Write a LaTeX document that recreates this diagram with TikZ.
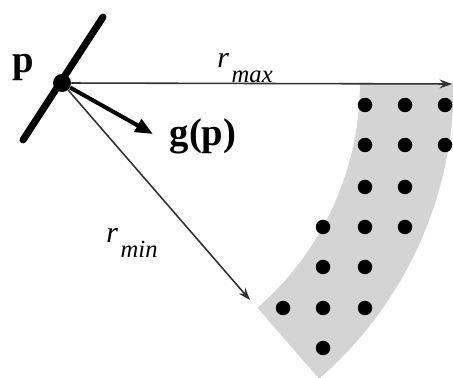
\documentclass[tikz,border=0pt]{standalone}
\usepackage{fontspec}
\setmainfont{Liberation Serif}
\usetikzlibrary{arrows.meta,calc}
\definecolor{zoneGray}{RGB}{212,212,212}
\definecolor{rayGray}{RGB}{50,50,50}
\newcommand{\radlabel}[1]{\textit{r}\kern1.5pt\raisebox{-8pt}{\fontsize{14}{14}\selectfont\itshape #1}}

\begin{document}
\begin{tikzpicture}[
    x=0.02cm, y=0.02cm,
    point/.style={circle, fill=black, inner sep=0pt, minimum size=0.36cm},
    sample/.style={circle, fill=black, inner sep=0pt, minimum size=0.29cm},
    plane/.style={line width=4pt, line cap=round},
    normal/.style={line width=2.3pt, -{Triangle[length=10pt,width=8pt]}},
    ray/.style={draw=rayGray, line width=0.9pt, -{Stealth[length=7pt,width=5pt]}},
    big label/.style={font=\fontsize{22}{26}\selectfont\bfseries, inner sep=0pt, anchor=base},
    radius label/.style={font=\fontsize{17}{20}\selectfont, inner sep=0pt, anchor=base west}
]
  \useasboundingbox (0,0) rectangle (453,378);
  \coordinate (c) at (62,295);

  % band between r_min and r_max
  \begin{scope}
    \clip (0,0) rectangle (453,378);
    \fill[zoneGray] ($(c)+(0:5.96cm)$) arc[start angle=0, end angle=-49, radius=5.96cm]
      -- ($(c)+(-49:7.84cm)$) arc[start angle=-49, end angle=0, radius=7.84cm] -- cycle;
  \end{scope}

  \foreach \x/\y [count=\i] in {365/273, 405/273, 445/273,
      365/233, 405/233, 445/233, 365/191, 405/191,
      323/151, 365/151, 405/151, 323/111, 365/111,
      283/70, 323/70, 365/70, 323/30}
    \node[sample] (s\i) at (\x,\y) {};

  \coordinate (plane low) at (23,238);
  \coordinate (plane high) at (103,361);
  \coordinate (max end) at (452,294);
  \coordinate (min end) at (250,78);
  \coordinate (g end) at (153,244);

  \draw[plane] (plane low) -- (plane high);
  \node[point] (p) at (c) {};
  \draw[ray] (p) -- (max end);
  \draw[ray] (p) -- (min end);
  \draw[normal] (p) -- (g end);

  \node[big label] (p label) at (23,305) {p};
  \node[big label] (g label) at (203,232) {g(p)};
  \node[radius label] (max label) at (217,310) {\radlabel{max}};
  \node[radius label] (min label) at (106,135) {\radlabel{min}};
\end{tikzpicture}
\end{document}
